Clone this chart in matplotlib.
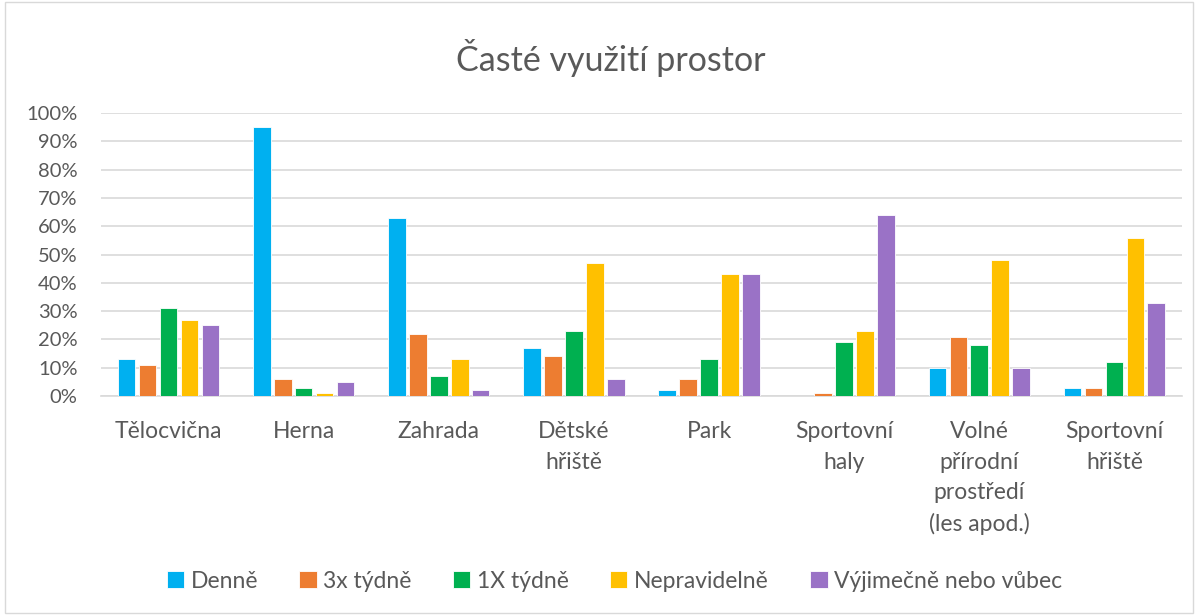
import matplotlib.pyplot as plt
import numpy as np
from matplotlib.patches import Rectangle
from matplotlib.ticker import FuncFormatter, MultipleLocator

plt.rcParams["font.family"] = ["Lato", "DejaVu Sans"]

categories = [
    "Tělocvična",
    "Herna",
    "Zahrada",
    "Dětské\nhřiště",
    "Park",
    "Sportovní\nhaly",
    "Volné\npřírodní\nprostředí\n(les apod.)",
    "Sportovní\nhřiště",
]
series_names = ["Denně", "3x týdně", "1X týdně", "Nepravidelně", "Výjimečně nebo vůbec"]
denne = [0.13, 0.95, 0.63, 0.17, 0.02, 0.00, 0.10, 0.03]
tri_tydne = [0.11, 0.06, 0.22, 0.14, 0.06, 0.01, 0.21, 0.03]
jeden_tydne = [0.31, 0.03, 0.07, 0.23, 0.13, 0.19, 0.18, 0.12]
nepravidelne = [0.27, 0.01, 0.13, 0.47, 0.43, 0.23, 0.48, 0.56]
vyjimecne = [0.25, 0.05, 0.02, 0.06, 0.43, 0.64, 0.10, 0.33]
colors = ["#00B0F0", "#ED7D31", "#00B050", "#FFC000", "#9A72C6"]

series = [denne, tri_tydne, jeden_tydne, nepravidelne, vyjimecne]
text_color = "#595959"

fig = plt.figure(figsize=(11.98, 6.15), dpi=100)
fig.patches.append(
    Rectangle((0.004, 0.004), 0.992, 0.992, transform=fig.transFigure,
              fill=False, edgecolor="#D9D9D9", linewidth=1)
)
ax = fig.add_axes([0.0843, 0.356, 0.9023, 0.46])

x = np.arange(len(categories))
step = 0.155
width = 0.13
for i, (vals, name, col) in enumerate(zip(series, series_names, colors)):
    offset = (i - 2) * step
    ax.bar(x + offset, vals, width=width, color=col, label=name,
           edgecolor="white", linewidth=0.6, zorder=3)

ax.set_xlim(-0.5, len(categories) - 0.5)
ax.set_ylim(0, 1.0)
ax.yaxis.set_major_locator(MultipleLocator(0.1))
ax.yaxis.set_major_formatter(FuncFormatter(lambda v, _: f"{v * 100:.0f}%"))
ax.grid(axis="y", color="#D9D9D9", linewidth=1.2, zorder=0)
for s in ["top", "right", "left"]:
    ax.spines[s].set_visible(False)
ax.spines["bottom"].set_color("#D9D9D9")
ax.spines["bottom"].set_linewidth(1.2)
ax.tick_params(axis="both", length=0, colors=text_color)
ax.tick_params(axis="y", pad=17, labelsize=14.5)
ax.tick_params(axis="x", pad=18, labelsize=16.5)
ax.set_xticks(x)
ax.set_xticklabels(categories, linespacing=1.56, va="top")

fig.text(0.51, 0.905, "Časté využití prostor", ha="center", va="center",
         fontsize=24.5, color=text_color)

fig.legend(loc="center", bbox_to_anchor=(0.513, 0.055), ncol=5, frameon=False,
           fontsize=16.5, handlelength=0.75, handleheight=0.75, handletextpad=0.3,
           columnspacing=1.8, labelcolor=text_color)

fig.savefig("out.png", dpi=100)
